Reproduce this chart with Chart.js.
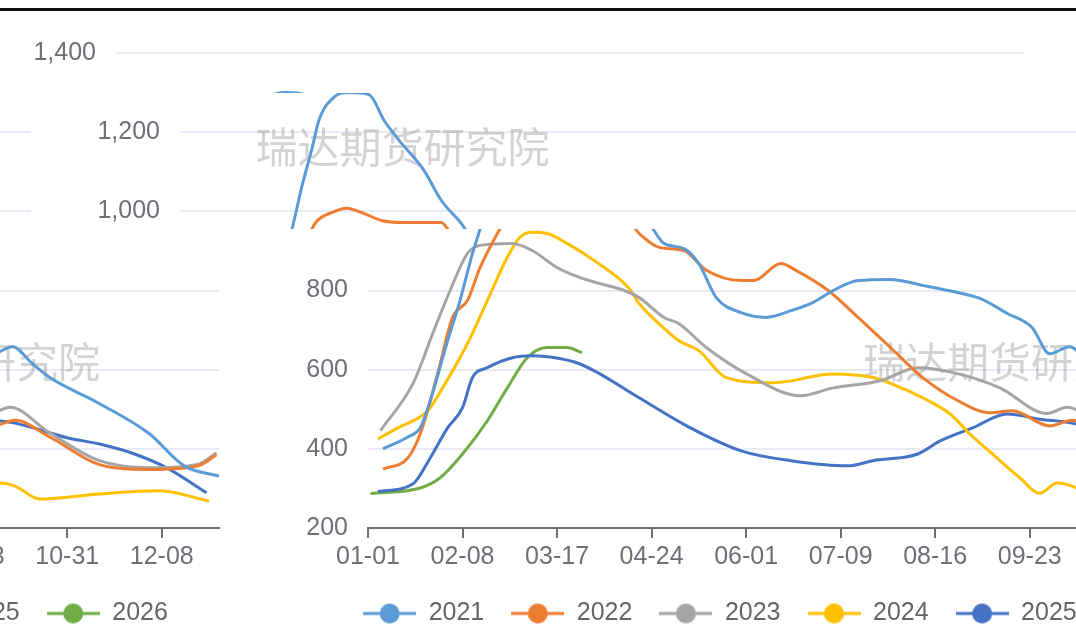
<!DOCTYPE html>
<html>
<head>
<meta charset="utf-8">
<script src="https://cdn.jsdelivr.net/npm/chart.js@4.4.1/dist/chart.umd.min.js"></script>
<style>
  html, body { margin: 0; padding: 0; background: #fff; overflow: hidden; }
  body { width: 1076px; height: 641px; position: relative; }
  .band { position: absolute; left: 0; width: 1076px; overflow: hidden; }
  .pane { position: absolute; width: 1057px; height: 641px; }
  .topline { position: absolute; left: 0; top: 8px; width: 1076px; height: 3px; background: #111; }
</style>
</head>
<body>
<script>
// seasonal chart, x = day of year (leap-year calendar), y = price
const tickStep = 38;
const dayTicks = ['01-01', '02-08', '03-17', '04-24', '06-01', '07-09', '08-16', '09-23', '10-31', '12-08'];
const years = ['2021', '2022', '2023', '2024', '2025', '2026'];
const colors = ['#5b9bd5', '#ed7d31', '#a5a5a5', '#ffc000', '#4472c4', '#70ad47'];

// [day, value]
const s2021 = [[6,400],[16,430],[21,453],[25,521],[32,673],[37,775],[42,894],[45,955],[49,1063],[53,1157],[56,1233],[62,1289],[68,1300],[76,1295],[82,1230],[88,1180],[98,1104],[105,1028],[113,970],[119,919],[127,906],[133,868],[140,782],[150,744],[160,732],[170,749],[179,770],[187,800],[197,825],[210,828],[223,813],[237,795],[246,780],[257,742],[267,706],[274,640],[282,658],[290,615],[297,580],[317,514],[337,438],[351,357],[365,331]];
const s2022 = [[6,349],[16,377],[21,438],[28,590],[34,732],[40,775],[45,857],[52,944],[55,975],[61,997],[67,1008],[73,997],[81,977],[89,972],[105,972],[109,944],[117,909],[127,901],[136,851],[150,825],[155,825],[166,868],[172,851],[185,800],[197,732],[210,656],[223,580],[237,522],[250,491],[259,496],[274,458],[283,472],[297,430],[317,360],[337,348],[357,358],[364,385]];
const s2023 = [[5,446],[18,564],[26,691],[33,800],[40,894],[45,914],[58,919],[66,901],[76,858],[85,833],[93,818],[103,800],[109,782],[119,732],[125,716],[136,656],[152,590],[174,534],[187,554],[206,572],[221,605],[237,590],[254,554],[273,489],[281,505],[297,440],[317,370],[337,352],[357,362],[364,390]];
const s2024 = [[4,425],[12,453],[24,496],[30,554],[40,666],[48,775],[56,884],[61,934],[66,947],[72,944],[80,919],[92,871],[105,805],[109,767],[120,699],[125,673],[133,648],[144,580],[163,567],[187,589],[203,580],[211,563],[223,529],[234,488],[242,437],[251,387],[262,327],[270,288],[277,314],[283,306],[293,273],[317,286],[341,294],[361,268]];
const s2025 = [[4,292],[18,311],[25,377],[32,453],[38,504],[42,580],[48,605],[58,630],[66,635],[77,628],[85,615],[93,590],[109,529],[129,455],[150,395],[170,370],[193,357],[203,370],[221,387],[230,420],[243,453],[257,488],[270,475],[283,465],[304,428],[317,412],[331,387],[344,352],[360,289]];
const s2026 = [[1,287],[21,301],[29,327],[38,387],[48,471],[56,554],[64,630],[72,656],[80,656],[86,643]];
const seriesData = [s2021, s2022, s2023, s2024, s2025, s2026];

const markText = '瑞达期货研究院';
const FONT = '"Liberation Sans", Arial, sans-serif';

function makeMarker(color) {
  const c = document.createElement('canvas');
  c.width = 53; c.height = 24;
  const g = c.getContext('2d');
  g.strokeStyle = color; g.lineWidth = 3;
  g.beginPath(); g.moveTo(0, 12); g.lineTo(53, 12); g.stroke();
  g.fillStyle = color;
  g.beginPath(); g.arc(26.5, 12, 10, 0, Math.PI * 2); g.fill();
  return c;
}
const markers = colors.map(makeMarker);

const watermark = {
  id: 'watermark',
  beforeDatasetsDraw(chart) {
    const { ctx, chartArea: a } = chart;
    ctx.save();
    ctx.font = '42px "Noto Sans CJK SC", sans-serif';
    ctx.fillStyle = 'rgba(150,150,150,0.42)';
    ctx.textAlign = 'center';
    ctx.textBaseline = 'middle';
    [[0.245, 0.198], [0.707, 0.65]].forEach(([fx, fy]) => {
      ctx.fillText(markText, a.left + fx * a.width, a.top + fy * a.height);
    });
    ctx.restore();
  }
};

function makeConfig() {
  return {
    type: 'line',
    data: {
      datasets: years.map((y, i) => ({
        label: y,
        data: seriesData[i].map(([d, v]) => ({ x: d, y: v })),
        borderColor: colors[i],
        backgroundColor: colors[i],
        borderWidth: 3,
        pointRadius: 0,
        fill: false,
        cubicInterpolationMode: 'monotone'
      }))
    },
    options: {
      responsive: false,
      animation: false,
      layout: { padding: { left: 10, right: 19, top: 53, bottom: 5 } },
      plugins: {
        tooltip: { enabled: false },
        legend: {
          position: 'bottom',
          labels: {
            usePointStyle: true,
            pointStyleWidth: 53,
            padding: 27,
            color: '#666',
            font: { family: FONT, size: 25 },
            generateLabels: chart =>
              Chart.defaults.plugins.legend.labels.generateLabels(chart)
                .map((it, i) => Object.assign(it, { pointStyle: markers[i] }))
          }
        }
      },
      scales: {
        x: {
          type: 'linear',
          min: 0,
          max: 365,
          afterFit: s => { s.height = 46; },
          ticks: {
            stepSize: tickStep,
            includeBounds: false,
            autoSkip: false,
            maxRotation: 0,
            padding: 4,
            color: '#6e7079',
            font: { family: FONT, size: 25 },
            callback: v => dayTicks[Math.round(v / tickStep)] || ''
          },
          grid: { drawOnChartArea: false, drawTicks: true, tickLength: 10, color: '#6e7079', lineWidth: 2 },
          border: { display: true, color: '#6e7079', width: 2 }
        },
        y: {
          min: 200,
          max: 1400,
          afterFit: s => { s.width = 88; },
          ticks: {
            stepSize: 200,
            padding: 20,
            color: '#6e7079',
            font: { family: FONT, size: 25 },
            callback: v => v.toLocaleString('en-US')
          },
          grid: { color: '#e6ebf5', lineWidth: 2, drawTicks: false },
          border: { display: false }
        },
        // empty right-hand spacer so the legend stays centred on the full width
        yr: {
          position: 'right',
          afterFit: s => { s.width = 32; },
          ticks: { display: false },
          grid: { display: false },
          border: { display: false }
        }
      }
    },
    plugins: [watermark]
  };
}

// the picture is a sliced, horizontally rolled copy of one wide chart
const views = [
  { top: 0, height: 93, offsets: [18] },
  { top: 93, height: 136, offsets: [82, 82 - 1057] },
  { top: 229, height: 412, offsets: [270, 270 - 1057] }
];

views.forEach(v => {
  const band = document.createElement('div');
  band.className = 'band';
  band.style.top = v.top + 'px';
  band.style.height = v.height + 'px';
  document.body.appendChild(band);
  v.offsets.forEach(off => {
    const pane = document.createElement('div');
    pane.className = 'pane';
    pane.style.left = off + 'px';
    pane.style.top = (-v.top) + 'px';
    const canvas = document.createElement('canvas');
    canvas.width = 1057;
    canvas.height = 641;
    pane.appendChild(canvas);
    band.appendChild(pane);
    new Chart(canvas.getContext('2d'), makeConfig());
  });
});

const topline = document.createElement('div');
topline.className = 'topline';
document.body.appendChild(topline);
</script>
</body>
</html>
